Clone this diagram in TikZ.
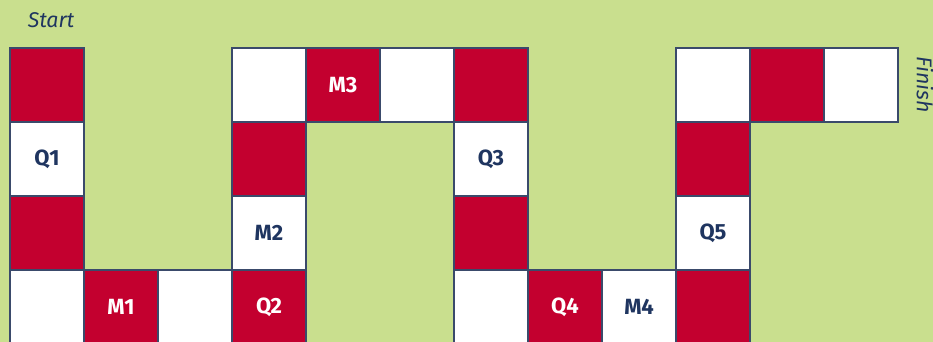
\documentclass[tikz,border=0pt]{standalone}
\usepackage{fontspec}
\setsansfont{Fira Sans}
\definecolor{boardgreen}{HTML}{C9DF8E}
\definecolor{tilered}{HTML}{C3002F}
\definecolor{tileline}{HTML}{3A4A6B}
\definecolor{labelnavy}{HTML}{1F3560}
\begin{document}
\begin{tikzpicture}[
    x=0.75pt, y=0.75pt,
    font=\sffamily\fontsize{15}{17}\selectfont,
    tile/.style={draw=tileline, line width=1pt, minimum size=55.5pt,
                 inner sep=0pt, outer sep=0pt, font=\sffamily\bfseries\fontsize{16.5}{18}\selectfont},
    redtile/.style={tile, fill=tilered, text=white},
    whitetile/.style={tile, fill=white, text=labelnavy},
    endlabel/.style={text=labelnavy, font=\sffamily\itshape\fontsize{16}{18}\selectfont},
]
% board background
\fill[boardgreen] (0,0) rectangle (933,-342);
\useasboundingbox (0,0) rectangle (933,-342);

\node[endlabel] (start) at (51,-20) {Start};
\node[endlabel, rotate=-90] (finish) at (925,-85) {Finish};

% Row 1 (top)
\node[redtile]   (r1c1)  at (47,-85)  {};
\node[whitetile] (r1c4)  at (269,-85) {};
\node[redtile]   (m3)    at (343,-85) {M3};
\node[whitetile] (r1c6)  at (417,-85) {};
\node[redtile]   (r1c7)  at (491,-85) {};
\node[whitetile] (r1c10) at (713,-85) {};
\node[redtile]   (r1c11) at (787,-85) {};
\node[whitetile] (r1c12) at (861,-85) {};

% Row 2
\node[whitetile] (q1)    at (47,-159)  {Q1};
\node[redtile]   (r2c4)  at (269,-159) {};
\node[whitetile] (q3)    at (491,-159) {Q3};
\node[redtile]   (r2c10) at (713,-159) {};

% Row 3
\node[redtile]   (r3c1)  at (47,-233)  {};
\node[whitetile] (m2)    at (269,-233) {M2};
\node[redtile]   (r3c7)  at (491,-233) {};
\node[whitetile] (q5)    at (713,-233) {Q5};

% Row 4 (bottom)
\node[whitetile] (r4c1)  at (47,-307)  {};
\node[redtile]   (m1)    at (121,-307) {M1};
\node[whitetile] (r4c3)  at (195,-307) {};
\node[redtile]   (q2)    at (269,-307) {Q2};
\node[whitetile] (r4c7)  at (491,-307) {};
\node[redtile]   (q4)    at (565,-307) {Q4};
\node[whitetile] (m4)    at (639,-307) {M4};
\node[redtile]   (r4c10) at (713,-307) {};
\end{tikzpicture}
\end{document}
